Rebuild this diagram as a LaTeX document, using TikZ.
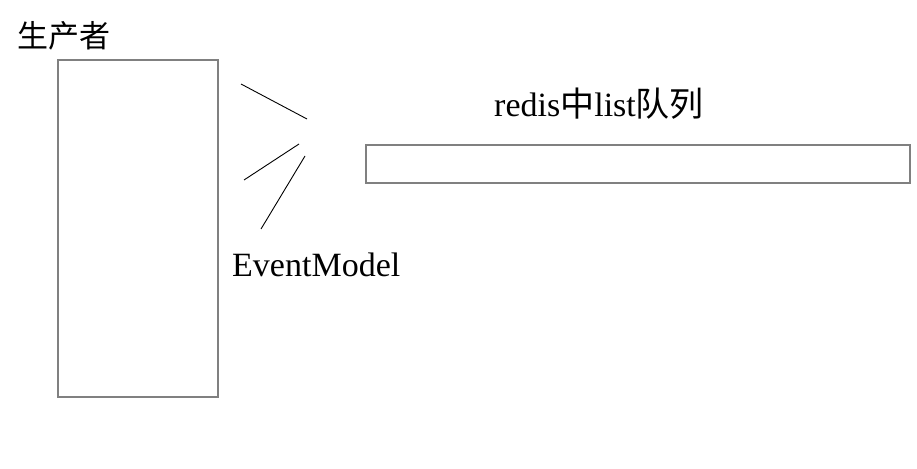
\documentclass[tikz,border=0pt]{standalone}
\usepackage{fontspec}
\setmainfont{Liberation Serif}
\newfontfamily\cjk{Noto Sans CJK SC}
\begin{document}
\begin{tikzpicture}[x=1pt,y=-1pt,
  box/.style={draw=black!50, line width=1.2pt, inner sep=0pt, fill=white},
  ray/.style={draw=black, line width=0.9pt},
  lbl/.style={inner sep=0pt, anchor=base west, font=\fontsize{34}{37}\selectfont}]
\useasboundingbox (0,0) rectangle (917,468);
\node[box, minimum width=160pt, minimum height=337pt] (prod) at (138,228.5) {};
\node[box, minimum width=544pt, minimum height=38pt] (queue) at (638,164) {};
\node[lbl, font=\fontsize{31}{34}\selectfont\cjk] (plabel) at (17,48) {生产者};
\node[lbl] (qlabel) at (494,117) {redis{\cjk 中}list{\cjk 队列}};
\node[lbl] (elabel) at (232,276) {EventModel};
\coordinate (a1) at (241,84);
\coordinate (a2) at (307,119);
\coordinate (b1) at (244,180);
\coordinate (b2) at (299,144);
\coordinate (c1) at (261,229);
\coordinate (c2) at (305,156);
\draw[ray] (a1) -- (a2);
\draw[ray] (b1) -- (b2);
\draw[ray] (c1) -- (c2);
\end{tikzpicture}
\end{document}
